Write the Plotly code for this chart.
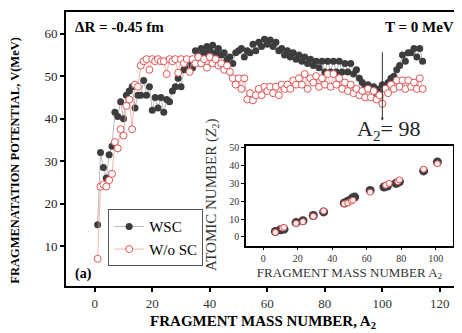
import plotly.graph_objects as go

# ---------------- data ----------------
A2 = list(range(1, 115))
V_wsc = [15, 32, 28.5, 26, 31.5, 33.5, 41.5, 40.5, 44, 40,
         45.5, 46.5, 47.5, 42.5, 45.5, 45.5, 49, 45.5, 47.5, 42,
         45, 42.5, 45, 41.5, 44.5, 44, 46.5, 47.5, 49.5, 47.5,
         51.5, 52.5, 53.5, 52, 56, 55, 56.5, 55.5, 57, 56,
         57.3, 55.5, 56.5, 55, 55.5, 54, 54.5, 53, 55.5, 56,
         56.5, 54.5, 56, 55.5, 57.5, 56, 58, 57, 58.7, 57.5,
         58.5, 57, 58, 56, 56.5, 55, 56, 54.5, 55.5, 54,
         55, 53.5, 54.5, 53, 54, 52.5, 53.5, 52, 53.5, 51,
         53.5, 51, 53.5, 51, 53.5, 51, 53, 51, 53, 50.5,
         51.5, 49.5, 48.5, 47.5, 48, 47, 47.5, 46, 47, 48,
         47, 48.5, 49.5, 50, 51.5, 52.5, 55, 53.5, 55.5, 55.5,
         56.5, 54.5, 56.5, 53.5]
V_wosc = [7, 24, 24.5, 24, 25.5, 27, 34.5, 33, 37.5, 36,
          43, 44.5, 37.5, 48, 47.5, 52.5, 53.5, 54, 51.5, 54,
          53.5, 54, 53.5, 53.5, 50.5, 54, 53.5, 54, 50.8, 54,
          53, 54, 51, 54, 53, 54.5, 53, 54, 52, 54.5,
          53, 54, 52.5, 53, 51.5, 52.5, 51, 49.5, 48, 49.5,
          47, 49.5, 44.5, 46, 44.3, 45.5, 47, 45.5, 47.5, 46.5,
          47.5, 46, 47.5, 45.5, 48, 47, 48, 47, 49, 48,
          49.5, 48, 50.5, 47, 49.5, 48.5, 50, 47.5, 49.5, 48,
          50.5, 47.5, 50.5, 48, 49.5, 47, 48.5, 46.5, 48, 46,
          47, 45.5, 46.5, 45, 47, 45, 46.5, 44.5, 45.5, 43.5,
          47, 46, 48, 47, 49, 47.5, 49, 47, 49, 47.5,
          48.5, 47, 49.5, 47]

inset_A_wsc = [7, 10, 12, 19, 23, 29, 35, 47, 49, 51, 52, 53, 62, 70, 72, 77, 78, 79, 93, 101]
inset_Z_wsc = [3, 4, 4.3, 8, 9, 12, 14, 19, 20, 21, 22, 22.3, 26, 28, 28.5, 30, 30.5, 31, 37, 42]
inset_A_wosc = [7, 11, 12, 19, 23, 29, 35, 47, 49, 51, 52, 62, 71, 73, 78, 79, 93, 101]
inset_Z_wosc = [2.5, 5, 5.3, 7.5, 8.5, 11.5, 14.5, 18.5, 19, 20, 20.5, 25, 29, 30, 31, 32, 38, 41]

x_ticks = [0, 20, 40, 60, 80, 100, 120]
y_ticks = [10, 20, 30, 40, 50, 60]
ix_ticks = [0, 20, 40, 60, 80, 100]
iy_ticks = [0, 10, 20, 30, 40, 50]

SERIF = "Liberation Serif, Times New Roman, serif"
DARK = "#3d3d3d"
RED = "#e05555"

fig = go.Figure()

fig.add_trace(go.Scatter(
    x=A2, y=V_wsc, mode="lines+markers", name="WSC",
    line=dict(color="#a8a8a8", width=0.8),
    marker=dict(symbol="circle", size=7, color=DARK, line=dict(width=0)),
))
fig.add_trace(go.Scatter(
    x=A2, y=V_wosc, mode="lines+markers", name="W/o SC",
    line=dict(color="#f2a0a0", width=0.8),
    marker=dict(symbol="circle", size=7, color="white", line=dict(color=RED, width=1)),
))

# inset
fig.add_trace(go.Scatter(
    x=inset_A_wsc, y=inset_Z_wsc, mode="markers", showlegend=False,
    xaxis="x2", yaxis="y2",
    marker=dict(symbol="circle", size=9, color=DARK, line=dict(width=0)),
))
fig.add_trace(go.Scatter(
    x=inset_A_wosc, y=inset_Z_wosc, mode="markers", showlegend=False,
    xaxis="x2", yaxis="y2",
    marker=dict(symbol="circle", size=6, color="#fff0f0", line=dict(color=RED, width=1)),
))

# page body has an 8px default margin: figure is 454x325 so the visible plot lines up
fig.update_layout(
    width=454, height=325,
    margin=dict(l=58, r=2, t=0, b=47),
    paper_bgcolor="white", plot_bgcolor="white",
    font=dict(family=SERIF, color="black"),
    showlegend=True,
    legend=dict(
        x=0.107, y=0.28, xanchor="left", yanchor="top",
        bgcolor="white", bordercolor="#555555", borderwidth=1,
        font=dict(family=SERIF, size=15, color="black"),
        tracegroupgap=0, itemsizing="trace",
        itemwidth=30,
    ),
    xaxis=dict(
        domain=[0, 1], range=[-10, 127], tickvals=x_ticks,
        showgrid=False, zeroline=False,
        showline=True, linecolor="black", linewidth=2, mirror=True,
        ticks="outside", ticklen=4, tickwidth=2, tickcolor="black",
        tickfont=dict(family=SERIF, size=13, color="#333333"),
        title=dict(text="<b>FRAGMENT MASS NUMBER, A<sub>2</sub></b>",
                   font=dict(family=SERIF, size=15), standoff=6),
    ),
    yaxis=dict(
        domain=[0, 1], range=[0.6, 65.1], tickvals=y_ticks,
        showgrid=False, zeroline=False,
        showline=True, linecolor="black", linewidth=2, mirror=True,
        ticks="outside", ticklen=4, tickwidth=2, tickcolor="black",
        tickfont=dict(family=SERIF, size=13, color="#222222"),
        tickprefix="<b>", ticksuffix="</b>",
    ),
    xaxis2=dict(
        domain=[0.457, 0.982], anchor="y2", range=[-10, 110], tickvals=ix_ticks,
        showgrid=False, zeroline=False,
        showline=True, linecolor="black", linewidth=1.5, mirror=True,
        ticks="outside", ticklen=3, tickwidth=1, tickcolor="black",
        tickfont=dict(family=SERIF, size=10, color="#333333"),
        title=dict(text="FRAGMENT MASS NUMBER A<sub>2</sub>",
                   font=dict(family=SERIF, size=13, color="#333333"), standoff=4),
    ),
    yaxis2=dict(
        domain=[0.147, 0.511], anchor="x2", range=[-5, 51], tickvals=iy_ticks,
        showgrid=False, zeroline=False,
        showline=True, linecolor="black", linewidth=1.5, mirror=True,
        ticks="outside", ticklen=3, tickwidth=1, tickcolor="black",
        tickfont=dict(family=SERIF, size=10, color="#333333"),
    ),
)

annotations = [
    dict(text="<b>FRAGMENATATION POTENTIAL, V(MeV)</b>", textangle=-90,
         xref="paper", yref="paper", x=-0.13, y=0.46, xanchor="center", yanchor="middle",
         showarrow=False, font=dict(family=SERIF, size=12.5, color="black")),
    dict(text="ATOMIC NUMBER (<i>Z</i><sub>2</sub>)", textangle=-90,
         xref="paper", yref="paper", x=0.37, y=0.335, xanchor="center", yanchor="middle",
         showarrow=False, font=dict(family=SERIF, size=15, color="#333333")),
    dict(text="<b>ΔR = -0.45 fm</b>", xref="paper", yref="paper", x=0.018, y=0.945,
         xanchor="left", yanchor="middle", showarrow=False,
         font=dict(family=SERIF, size=15, color="black")),
    dict(text="<b>T = 0 MeV</b>", xref="paper", yref="paper", x=0.99, y=0.945,
         xanchor="right", yanchor="middle", showarrow=False,
         font=dict(family=SERIF, size=15, color="black")),
    dict(text="<b>(a)</b>", xref="paper", yref="paper", x=0.018, y=0.045,
         xanchor="left", yanchor="middle", showarrow=False,
         font=dict(family=SERIF, size=14, color="black")),
    dict(text="A<sub>2</sub>= 98", xref="paper", yref="paper", x=0.82, y=0.57,
         xanchor="center", yanchor="middle", showarrow=False,
         font=dict(family=SERIF, size=22, color="#222222")),
    dict(text="", xref="x", yref="y", x=100, y=39.5, ax=0, ay=-70,
         showarrow=True, arrowhead=2, arrowsize=0.6, arrowwidth=1, arrowcolor="#333333"),
]
fig.update_layout(annotations=annotations)

fig.write_html("out.html")
